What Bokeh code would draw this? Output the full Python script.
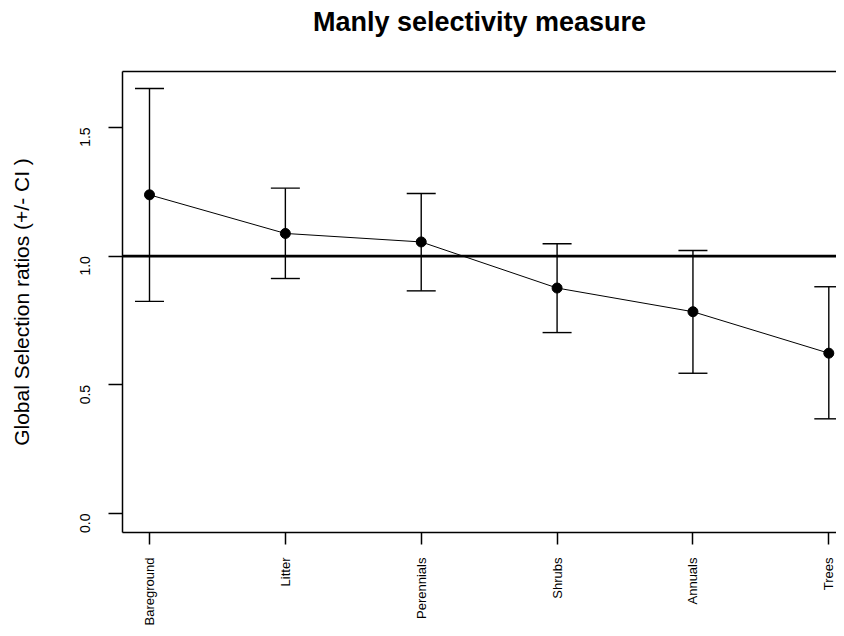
from bokeh.plotting import figure
from bokeh.models import (ColumnDataSource, Whisker, TeeHead, Span, LinearAxis,
                          FixedTicker, Range1d)
from bokeh.embed import file_html
from bokeh.resources import INLINE
import math

categories = ["Bareground", "Litter", "Perennials", "Shrubs", "Annuals", "Trees"]
ratios = [1.238, 1.088, 1.055, 0.876, 0.784, 0.623]
lower_ci = [0.824, 0.913, 0.865, 0.703, 0.545, 0.368]
upper_ci = [1.651, 1.264, 1.243, 1.048, 1.022, 0.881]
y_ticks = [0.0, 0.5, 1.0, 1.5]
reference_ratio = 1.0
title_text = "Manly selectivity measure"

FONT = "Liberation Sans"
xs = list(range(1, len(categories) + 1))
src = ColumnDataSource(dict(x=xs, y=ratios, lo=lower_ci, hi=upper_ci))

p = figure(width=836, height=628, output_backend="svg", toolbar_location=None,
           title=None,
           x_range=Range1d(0.8013, 6.0566), y_range=Range1d(-0.0735, 1.717),
           min_border_left=122, min_border_top=71, min_border_bottom=94,
           min_border_right=0)
p.outline_line_color = None
p.xgrid.visible = False
p.ygrid.visible = False
p.background_fill_color = "white"
p.border_fill_color = "white"

# x axis
xa = p.xaxis[0]
xa.ticker = FixedTicker(ticks=xs)
xa.major_label_overrides = {x: c for x, c in zip(xs, categories)}
xa.major_label_orientation = math.pi / 2
xa.major_label_text_font = FONT
xa.major_label_text_font_size = "13px"
xa.major_label_text_color = "black"
xa.major_tick_out = 12
xa.major_tick_in = 0
xa.minor_tick_out = 0
xa.minor_tick_in = 0
xa.major_label_standoff = 13
xa.axis_line_color = "black"
xa.axis_line_width = 1.5
xa.major_tick_line_color = "black"
xa.major_tick_line_width = 1.5

# y axis
ya = p.yaxis[0]
ya.ticker = FixedTicker(ticks=y_ticks)
ya.major_label_overrides = {t: f"{t:.1f}" for t in y_ticks}
ya.major_label_orientation = math.pi / 2
ya.major_label_text_font = FONT
ya.major_label_text_font_size = "14px"
ya.major_label_text_color = "black"
ya.major_tick_out = 14
ya.major_tick_in = 0
ya.minor_tick_out = 0
ya.minor_tick_in = 0
ya.major_label_standoff = 23
ya.axis_line_color = "black"
ya.axis_line_width = 1.5
ya.major_tick_line_color = "black"
ya.major_tick_line_width = 1.5
ya.axis_label = "Global Selection ratios (+/- CI )"
ya.axis_label_text_font = FONT
ya.axis_label_text_font_size = "21px"
ya.axis_label_text_font_style = "normal"
ya.axis_label_text_color = "black"
ya.axis_label_standoff = 40

# top border, carrying the title as its label
top = LinearAxis(ticker=FixedTicker(ticks=[]), major_tick_out=0, major_tick_in=0,
                 minor_tick_out=0, minor_tick_in=0, axis_line_color="black",
                 axis_line_width=1.5, major_label_text_font_size="0px",
                 major_label_standoff=0,
                 axis_label=title_text, axis_label_text_font=FONT,
                 axis_label_text_font_size="27px",
                 axis_label_text_font_style="bold",
                 axis_label_text_color="black",
                 axis_label_standoff=35)
p.add_layout(top, "above")

# reference line
p.add_layout(Span(location=reference_ratio, dimension="width",
                  line_color="black", line_width=2.8))

# error bars
p.add_layout(Whisker(source=src, base="x", upper="hi", lower="lo",
                     line_color="black", line_width=1.4,
                     upper_head=TeeHead(size=29, line_color="black", line_width=1.4),
                     lower_head=TeeHead(size=29, line_color="black", line_width=1.4)))

p.line("x", "y", source=src, line_color="black", line_width=1)
p.scatter("x", "y", source=src, size=10, fill_color="black", line_color="black")

open("out.html", "w").write(file_html(p, INLINE))
